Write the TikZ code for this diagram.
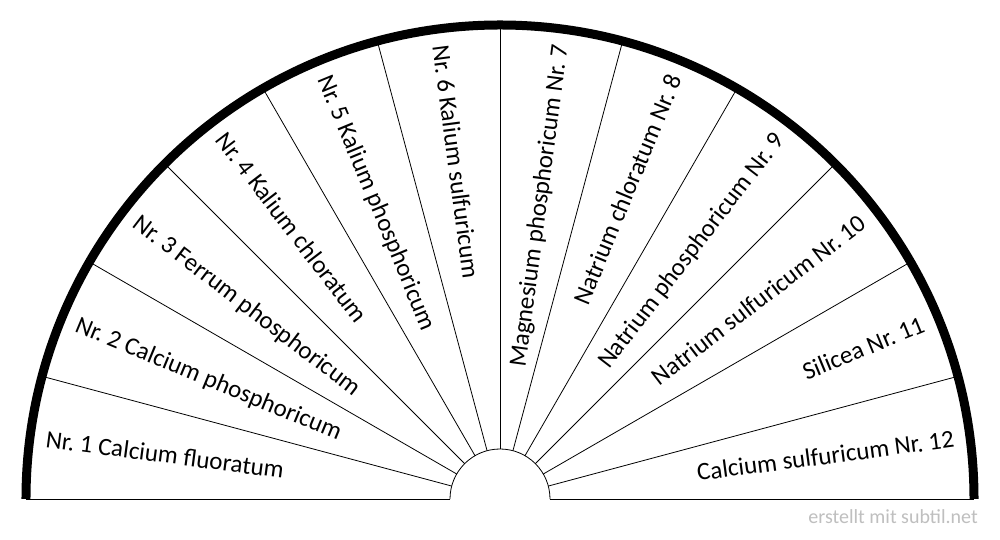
\documentclass[tikz,border=0pt]{standalone}
\usepackage{fontspec}
\setmainfont{Carlito}
\begin{document}
\frenchspacing
\begin{tikzpicture}[x=1pt,y=1pt,
  spoke/.style={line width=0.8pt, black},
  rim/.style={line width=9pt, black},
  lbl/.style={inner sep=0pt, text height=16pt, text depth=0pt,
    font=\fontsize{25}{30}\selectfont},
  wmark/.style={inner sep=0pt, font=\fontsize{20}{24}\selectfont, text=black!25}]
\useasboundingbox (-500,-41) rectangle (500,499);
\fill[white] (-500,-41) rectangle (500,499);
% spokes
\foreach \a in {15,30,...,165} {
  \draw[spoke] (\a:50) -- (\a:474);
}
\coordinate (L0) at (-474,0);
\coordinate (L1) at (-50,0);
\coordinate (R0) at (50,0);
\coordinate (R1) at (474,0);
\draw[spoke] (L0) -- (L1);
\draw[spoke] (R0) -- (R1);
\draw[spoke] (R0) arc[start angle=0, end angle=180, radius=50];
\draw[rim] (R1) arc[start angle=0, end angle=180, radius=474];
% left labels
\foreach \n/\t in {1/Nr. 1 Calcium fluoratum, 2/Nr. 2 Calcium phosphoricum,
  3/Nr. 3 Ferrum phosphoricum, 4/Nr. 4 Kalium chloratum,
  5/Nr. 5 Kalium phosphoricum, 6/Nr. 6 Kalium sulfuricum} {
  \pgfmathsetmacro{\ang}{187.5-15*\n}
  \node[lbl, anchor=west, rotate=\ang-180] (l\n) at (\ang:458) {\t};
}
% right labels
\foreach \n/\t in {7/Magnesium phosphoricum Nr. 7, 8/Natrium chloratum Nr. 8,
  9/Natrium phosphoricum Nr. 9, 10/Natrium sulfuricum Nr. 10,
  11/Silicea Nr. 11, 12/Calcium sulfuricum Nr. 12} {
  \pgfmathsetmacro{\ang}{187.5-15*\n}
  \node[lbl, anchor=east, rotate=\ang] (r\n) at (\ang:458) {\t};
}
\node[wmark, anchor=base east] (wm) at (478,-25) {erstellt mit subtil.net};
\end{tikzpicture}
\end{document}
